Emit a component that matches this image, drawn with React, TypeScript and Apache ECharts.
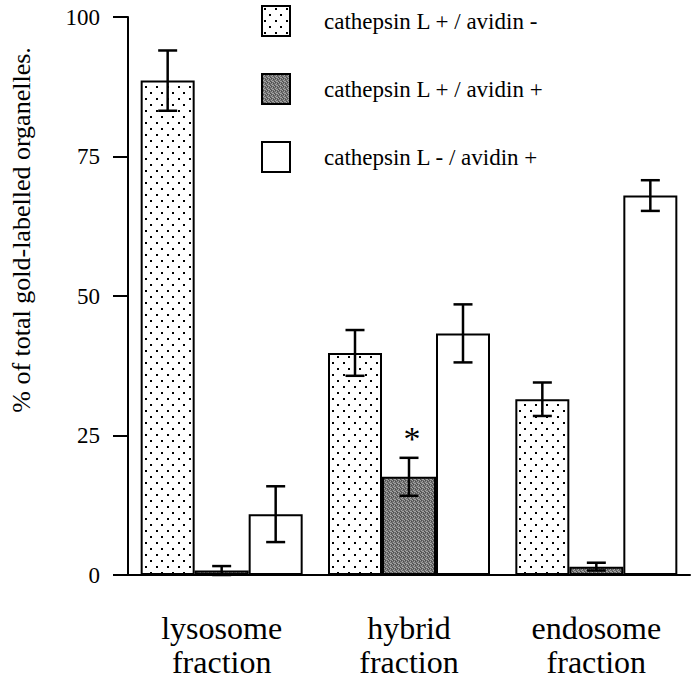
import React, { useEffect, useRef } from "react";
import * as echarts from "echarts";

const categories = ["lysosome\nfraction", "hybrid\nfraction", "endosome\nfraction"];
const seriesNames = [
  "cathepsin L + / avidin -",
  "cathepsin L + / avidin +",
  "cathepsin L - / avidin +",
];
const dottedValues = [88.6, 39.8, 31.5];
const dottedErrors = [5.4, 4.1, 3.0];
const darkValues = [0.8, 17.6, 1.5];
const darkErrors = [0.8, 3.4, 0.7];
const openValues = [10.9, 43.3, 68.0];
const openErrors = [5.0, 5.2, 2.75];
const dottedMarks = ["", "", ""];
const darkMarks = ["", "*", ""];
const openMarks = ["", "", ""];
const yMin = 0;
const yMax = 100;
const yStep = 25;
const yTitle = "% of total gold-labelled organelles.";

const FONT = '"Liberation Serif", "Times New Roman", serif';
const BAR_W = 54;
const CAP = 9.5;

function makeDots() {
  const c = document.createElement("canvas");
  c.width = 11;
  c.height = 12;
  const g = c.getContext("2d")!;
  g.fillStyle = "#fff";
  g.fillRect(0, 0, 11, 12);
  g.fillStyle = "#000";
  g.fillRect(2, 2, 2, 2);
  g.fillRect(7, 8, 2, 2);
  return c;
}

function makeDark() {
  const c = document.createElement("canvas");
  c.width = 4;
  c.height = 4;
  const g = c.getContext("2d")!;
  g.fillStyle = "#6e6e6e";
  g.fillRect(0, 0, 4, 4);
  g.fillStyle = "#a4a4a4";
  const pts = [[0, 0], [2, 1], [1, 2], [3, 3], [2, 3]];
  pts.forEach(([x, y]) => g.fillRect(x, y, 1, 1));
  g.fillStyle = "#4c4c4c";
  [[1, 0], [3, 1], [0, 3]].forEach(([x, y]) => g.fillRect(x, y, 1, 1));
  return c;
}

export default function App() {
  const ref = useRef<HTMLDivElement>(null);
  useEffect(() => {
    document.body.style.margin = "0";
    if (!ref.current) return;
    const chart = echarts.init(ref.current, undefined, { renderer: "svg" });
    const fills: any[] = [
      { image: makeDots(), repeat: "repeat", imageWidth: 11, imageHeight: 12 },
      { image: makeDark(), repeat: "repeat", imageWidth: 4, imageHeight: 4 },
      "#fff",
    ];
    const groups = [
      [dottedValues, dottedErrors, dottedMarks],
      [darkValues, darkErrors, darkMarks],
      [openValues, openErrors, openMarks],
    ] as [number[], number[], string[]][];

    const barSeries = groups.map(([vals], k) => ({
      type: "bar",
      name: seriesNames[k],
      data: vals,
      barWidth: BAR_W,
      barGap: "0%",
      z: 2,
      itemStyle: { color: fills[k], borderColor: "#000", borderWidth: 2 },
    }));

    const errSeries = groups.map(([vals, errs, marks], k) => ({
      type: "custom",
      name: "err" + k,
      z: 5,
      data: vals.map((m, i) => [i, m - errs[i], m + errs[i]]),
      encode: { x: 0, y: [1, 2] },
      renderItem: (params: any, api: any) => {
        const i = api.value(0);
        const cx = api.coord([i, 0])[0] + (k - 1) * BAR_W;
        const lo = api.coord([i, api.value(1)])[1];
        const hi = api.coord([i, api.value(2)])[1];
        const style = { stroke: "#000", lineWidth: 2.5 };
        const children: any[] = [
          { type: "line", shape: { x1: cx, y1: lo, x2: cx, y2: hi }, style },
          { type: "line", shape: { x1: cx - CAP, y1: hi, x2: cx + CAP, y2: hi }, style },
          { type: "line", shape: { x1: cx - CAP, y1: lo, x2: cx + CAP, y2: lo }, style },
        ];
        if (marks[i]) {
          children.push({
            type: "text",
            x: cx + 3,
            y: hi - 2,
            style: {
              text: marks[i],
              fontSize: 34,
              fontFamily: FONT,
              fill: "#000",
              align: "center",
              textAlign: "center",
              verticalAlign: "bottom",
              textVerticalAlign: "bottom",
            },
          });
        }
        return { type: "group", children };
      },
    }));

    chart.setOption({
      animation: false,
      grid: { left: 128, right: 1, top: 17, bottom: 108, containLabel: false },
      legend: {
        data: seriesNames,
        orient: "vertical",
        left: 261,
        top: 5,
        itemWidth: 28,
        itemHeight: 30,
        itemGap: 36,
        padding: 0,
        icon: "rect",
        selectedMode: false,
        textStyle: { fontSize: 23, fontFamily: FONT, color: "#000", padding: [0, 0, 0, 29] },
      },
      xAxis: {
        type: "category",
        data: categories,
        axisLine: { lineStyle: { color: "#000", width: 2 } },
        axisTick: { alignWithLabel: true, length: 17, lineStyle: { color: "#000", width: 2 } },
        axisLabel: { fontSize: 32, lineHeight: 34, fontFamily: FONT, color: "#000", margin: 36 },
      },
      yAxis: {
        type: "value",
        min: yMin,
        max: yMax,
        interval: yStep,
        splitLine: { show: false },
        axisLine: { show: true, lineStyle: { color: "#000", width: 2 } },
        axisTick: { show: true, length: 15, lineStyle: { color: "#000", width: 2 } },
        axisLabel: { fontSize: 23, fontFamily: FONT, color: "#000", margin: 28 },
      },
      graphic: [
        {
          type: "text",
          x: 21,
          y: 230,
          rotation: Math.PI / 2,
          style: {
            text: yTitle,
            fontSize: 26,
            fontFamily: FONT,
            fill: "#000",
            align: "center",
            textAlign: "center",
            verticalAlign: "middle",
            textVerticalAlign: "middle",
          },
        },
      ],
      series: [...barSeries, ...errSeries],
    });
    return () => chart.dispose();
  }, []);
  return <div ref={ref} style={{ width: 691, height: 683 }} />;
}
